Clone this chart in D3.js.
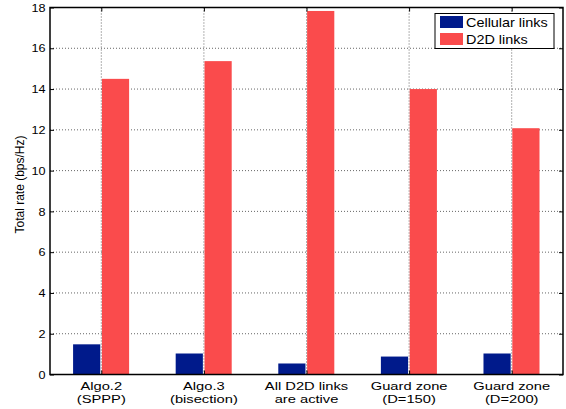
<!DOCTYPE html>
<html><head><meta charset="utf-8">
<script src="https://cdn.jsdelivr.net/npm/d3@7"></script>
<style>
body{margin:0;background:#fff;}
svg{display:block;font-family:"Liberation Sans",Arial,Helvetica,sans-serif;}
</style></head>
<body><svg id="c" width="566" height="409"></svg>
<script>
const categories = [["Algo.2","(SPPP)"],["Algo.3","(bisection)"],["All D2D links","are active"],["Guard zone","(D=150)"],["Guard zone","(D=200)"]];
const cellular = [1.48, 1.03, 0.54, 0.88, 1.03];
const d2d = [14.5, 15.37, 17.83, 14.0, 12.08];
const yTicks = [0,2,4,6,8,10,12,14,16,18];
const seriesNames = ["Cellular links","D2D links"];
const colors = ["#001a8b","#fa4b4c"];

const svg = d3.select("#c");
const L=50, R=563, T=7.5, B=374.5;
const x = d3.scaleLinear().domain([0.5,5.5]).range([L,R]);
const y = d3.scaleLinear().domain([0,18]).range([B,T]);

// grid
const g = svg.append("g");
yTicks.filter(t=>t>0&&t<18).forEach(t=>{
  g.append("line").attr("x1",L).attr("x2",R).attr("y1",y(t)).attr("y2",y(t))
   .attr("stroke","#555").attr("stroke-width",0.9).attr("stroke-dasharray","1,2");
});
categories.forEach((c,i)=>{
  g.append("line").attr("x1",x(i+1)).attr("x2",x(i+1)).attr("y1",T).attr("y2",B)
   .attr("stroke","#555").attr("stroke-width",0.9).attr("stroke-dasharray","1,2");
});

// bars
const bw = 0.265;
svg.append("g").selectAll("rect").data(cellular).join("rect")
  .attr("x",(d,i)=>x(i+1-0.275)).attr("width",x(bw)-x(0))
  .attr("y",d=>y(d)).attr("height",d=>y(0)-y(d)).attr("fill",colors[0]);
svg.append("g").selectAll("rect").data(d2d).join("rect")
  .attr("x",(d,i)=>x(i+1+0.006)).attr("width",x(bw)-x(0))
  .attr("y",d=>y(d)).attr("height",d=>y(0)-y(d)).attr("fill",colors[1]);

// axes ticks (inward, on all four sides)
function ticksOnly(axis, tr){
  const a = svg.append("g").attr("transform",tr).call(axis);
  a.select(".domain").remove();
  a.selectAll("line").attr("stroke","#000");
  return a;
}
ticksOnly(d3.axisLeft(y).tickValues(yTicks).tickSize(-4).tickFormat(""),`translate(${L},0)`);
ticksOnly(d3.axisRight(y).tickValues(yTicks).tickSize(-4).tickFormat(""),`translate(${R},0)`);
ticksOnly(d3.axisBottom(x).tickValues([1,2,3,4,5]).tickSize(-4).tickFormat(""),`translate(0,${B})`);
ticksOnly(d3.axisTop(x).tickValues([1,2,3,4,5]).tickSize(-4).tickFormat(""),`translate(0,${T})`);

// y tick labels
yTicks.forEach(t=>{
  svg.append("text").attr("transform",`translate(45.5,${y(t)+4.2}) scale(1.1,1)`)
    .attr("text-anchor","end").attr("font-size",11.5).attr("fill","#000").text(t);
});

// category labels
categories.forEach((c,i)=>{
  svg.append("text").attr("transform",`translate(${x(i+1)},390) scale(1.28,1)`)
    .attr("text-anchor","middle").attr("font-size",11.5).attr("fill","#000").text(c[0]);
  svg.append("text").attr("transform",`translate(${x(i+1)},402.5) scale(1.28,1)`)
    .attr("text-anchor","middle").attr("font-size",11.5).attr("fill","#000").text(c[1]);
});

// frame
svg.append("rect").attr("x",L).attr("y",T).attr("width",R-L).attr("height",B-T)
  .attr("fill","none").attr("stroke","#000").attr("stroke-width",1.5);

// y label
svg.append("text").attr("transform",`translate(24,184.5) rotate(-90)`)
  .attr("text-anchor","middle").attr("font-size",12).attr("fill","#000")
  .text("Total rate (bps/Hz)");

// legend
const lg = svg.append("g");
lg.append("rect").attr("x",435).attr("y",13.5).attr("width",119).attr("height",35)
  .attr("fill","#fff").attr("stroke","#000").attr("stroke-width",1);
seriesNames.forEach((s,i)=>{
  lg.append("rect").attr("x",440).attr("y",16+i*17).attr("width",23).attr("height",12).attr("fill",colors[i]);
  lg.append("text").attr("transform",`translate(466,${27+i*16.5}) scale(1.11,1)`)
    .attr("font-size",13).attr("fill","#000").text(s);
});
</script></body></html>
